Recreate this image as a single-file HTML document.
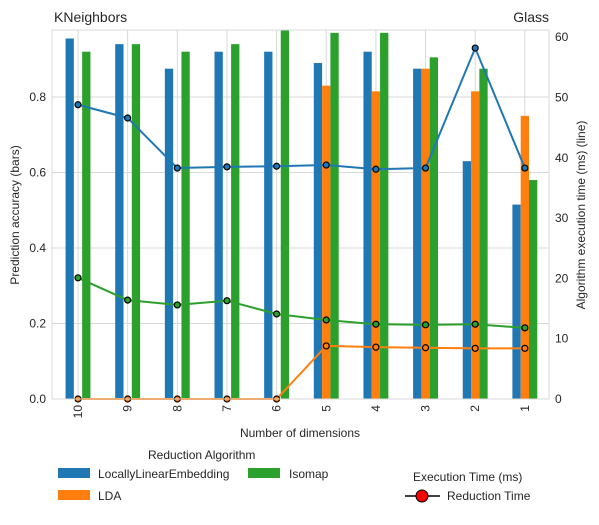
<!DOCTYPE html>
<html><head><meta charset="utf-8"><style>
body{margin:0;background:#fff;font-family:"Liberation Sans","DejaVu Sans",sans-serif;}
svg text{font-family:"Liberation Sans","DejaVu Sans",sans-serif;fill:#262626;}
</style></head><body>
<svg id="chart" width="599" height="520" xmlns="http://www.w3.org/2000/svg">
<g id="grid"></g><g id="bars"></g><g id="lines"></g><g id="axes"></g>
<text x="54" y="22" font-size="14">KNeighbors</text>
<text x="549" y="22" font-size="14" text-anchor="end">Glass</text>
<text x="300" y="437" font-size="12" text-anchor="middle">Number of dimensions</text>
<text transform="translate(19,215) rotate(-90)" font-size="12" text-anchor="middle">Prediction accuracy (bars)</text>
<text transform="translate(585,215) rotate(-90)" font-size="12" text-anchor="middle">Algorithm execution time (ms) (line)</text>
<g font-size="12">
<text x="148" y="459">Reduction Algorithm</text>
<rect x="58" y="468" width="32" height="10" fill="#1f77b4"/>
<text x="98" y="478">LocallyLinearEmbedding</text>
<rect x="248" y="468" width="32" height="10" fill="#2ca02c"/>
<text x="289" y="478">Isomap</text>
<rect x="58" y="490" width="32" height="10" fill="#ff7f0e"/>
<text x="98" y="500">LDA</text>
<text x="413" y="481">Execution Time (ms)</text>
<line x1="405" y1="496" x2="440" y2="496" stroke="#000" stroke-width="1.5"/>
<circle cx="422" cy="496" r="6" fill="#f00" stroke="#000"/>
<text x="447" y="500">Reduction Time</text>
</g>
</svg>
<script>
const categories=["10","9","8","7","6","5","4","3","2","1"];
const accLLE=[0.955,0.94,0.875,0.92,0.92,0.89,0.92,0.875,0.63,0.515];
const accLDA=[0,0,0,0,0,0.83,0.815,0.875,0.815,0.75];
const accIso=[0.92,0.94,0.92,0.94,0.98,0.97,0.97,0.905,0.875,0.58];
const timeLLE=[48.8,46.6,38.3,38.5,38.6,38.8,38.1,38.3,58.2,38.3];
const timeLDA=[0,0,0,0,0,8.8,8.6,8.5,8.4,8.4];
const timeIso=[20.1,16.4,15.6,16.3,14.1,13.1,12.4,12.3,12.4,11.8];
const yTicks=[0,0.2,0.4,0.6,0.8];
const y2Ticks=[0,10,20,30,40,50,60];
const NS="http://www.w3.org/2000/svg";
const L=52,R=549,T=30,B=399;
const xs=i=>78+i*49.65;
const y=v=>B-v*377.5;
const y2=v=>B-v*6.03;
function mk(tag,at,parent){const e=document.createElementNS(NS,tag);for(const k in at)e.setAttribute(k,at[k]);document.getElementById(parent).appendChild(e);return e;}
yTicks.forEach(t=>{const l=mk('line',{x1:L,x2:R,y1:y(t),y2:y(t),stroke:'#d9d9d9','stroke-width':1},'grid');


const tx=mk('text',{x:L-6,y:y(t)+4,'font-size':12,'text-anchor':'end'},'axes');tx.textContent=t.toFixed(1);

});
y2Ticks.forEach(t=>{const tx=mk('text',{x:R+6,y:y2(t)+4,'font-size':12},'axes');tx.textContent=t;

});
categories.forEach((c,i)=>{const l=mk('line',{x1:xs(i),x2:xs(i),y1:T,y2:B,stroke:'#d9d9d9','stroke-width':1},'grid');


const tx=mk('text',{transform:`translate(${xs(i)+4},${B+6}) rotate(-90)`,'font-size':12,'text-anchor':'end'},'axes');tx.textContent=c;

});
const bw=8.3;
[[accLLE,'#1f77b4',-1.5,'bar-lle'],[accLDA,'#ff7f0e',-0.5,'bar-lda'],[accIso,'#2ca02c',0.5,'bar-isomap']].forEach(([arr,col,off,nm])=>{
arr.forEach((v,i)=>{const top=Math.max(y(v),T);const r=mk('rect',{x:xs(i)+off*bw,y:top,width:bw,height:B-top,fill:col},'bars');

});});
[[timeLLE,'#1f77b4','line-lle'],[timeLDA,'#ff7f0e','line-lda'],[timeIso,'#2ca02c','line-isomap']].forEach(([arr,col,nm])=>{
const p=mk('polyline',{points:arr.map((v,i)=>xs(i)+','+y2(v)).join(' '),fill:'none',stroke:col,'stroke-width':2},'lines');


arr.forEach((v,i)=>{const c=mk('circle',{cx:xs(i),cy:y2(v),r:3,fill:col,stroke:'#000','stroke-width':1.2},'lines');

});});
const fr=mk('rect',{x:L,y:T,width:R-L,height:B-T,fill:'none',stroke:'#d9d9d9'},'axes');


</script>
</body></html>
